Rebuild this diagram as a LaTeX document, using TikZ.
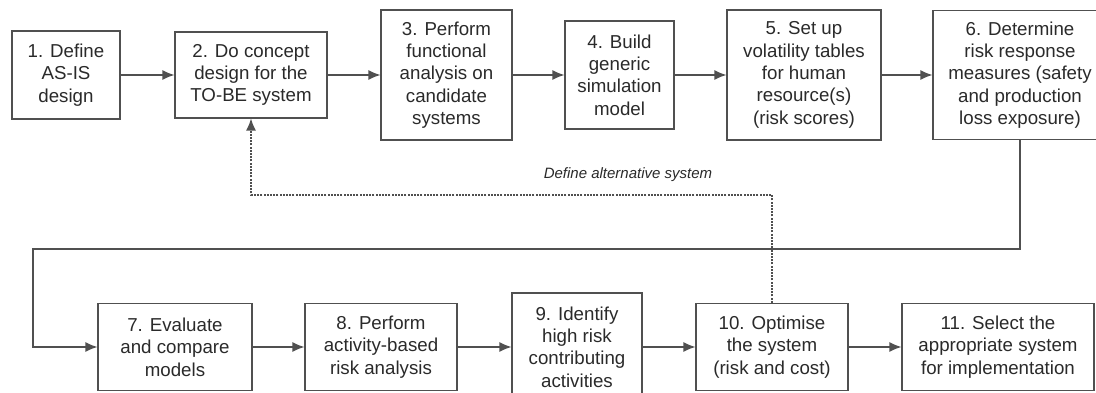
\documentclass[tikz,border=0pt]{standalone}
\usepackage{fontspec}
\setmainfont{Liberation Sans}
\usetikzlibrary{arrows.meta}
\definecolor{linegray}{HTML}{505050}
\definecolor{textgray}{HTML}{2A2A2A}

\begin{document}
\begin{tikzpicture}[x=1pt,y=1pt,
    stepbox/.style={draw=linegray,line width=1.2pt,text=textgray,align=center,
      inner sep=0pt,font=\fontsize{18.7}{22.4}\selectfont},
    flow/.style={draw=linegray,line width=1.2pt,-{Latex[length=12pt,width=10pt]}},
    back/.style={flow,dash pattern=on 2pt off 1.2pt}]
  \clip (0,0) rectangle (1096,393);
  \fill[white] (0,0) rectangle (1096,393);

  % top row
  \node[stepbox,minimum width=108pt,minimum height=88pt] (s1) at (66,318) {1. Define\\AS-IS\\design};
  \node[stepbox,minimum width=152pt,minimum height=86pt] (s2) at (251,318) {2. Do concept\\design for the\\TO-BE system};
  \node[stepbox,minimum width=131pt,minimum height=130pt] (s3) at (446.5,318) {3. Perform\\functional\\analysis on\\candidate\\systems};
  \node[stepbox,minimum width=109pt,minimum height=108pt] (s4) at (619.5,318) {4. Build\\generic\\simulation\\model};
  \node[stepbox,minimum width=154pt,minimum height=130pt] (s5) at (804,318) {5. Set up\\volatility tables\\for human\\resource(s)\\(risk scores)};
  \node[stepbox,minimum width=174pt,minimum height=129pt] (s6) at (1020,318) {6. Determine\\risk response\\measures (safety\\and production\\loss exposure)};

  % bottom row
  \node[stepbox,minimum width=154pt,minimum height=87pt] (s7) at (175,46) {7. Evaluate\\and compare\\models};
  \node[stepbox,minimum width=152pt,minimum height=87pt] (s8) at (381,46) {8. Perform\\activity-based\\risk analysis};
  \node[stepbox,minimum width=130pt,minimum height=108pt] (s9) at (577,46) {9. Identify\\high risk\\contributing\\activities};
  \node[stepbox,minimum width=152pt,minimum height=87pt] (s10) at (772,46) {10. Optimise\\the system\\(risk and cost)};
  \node[stepbox,minimum width=192pt,minimum height=87pt] (s11) at (998,46) {11. Select the\\appropriate system\\for implementation};

  \coordinate (turn) at (33,144);
  \coordinate (alt) at (500,198);

  \draw[flow] (s1) -- (s2);
  \draw[flow] (s2) -- (s3);
  \draw[flow] (s3) -- (s4);
  \draw[flow] (s4) -- (s5);
  \draw[flow] (s5) -- (s6);
  \draw[flow] (s6.south) |- (turn) |- (s7.west);
  \draw[flow] (s7) -- (s8);
  \draw[flow] (s8) -- (s9);
  \draw[flow] (s9) -- (s10);
  \draw[flow] (s10) -- (s11);

  % feedback loop
  \draw[back] (s10.north) |- (alt) -| (s2.south);
  \node[text=textgray,font=\itshape\fontsize{15}{18}\selectfont] (altlabel) at (628,218) {Define alternative system};
\end{tikzpicture}
\end{document}
